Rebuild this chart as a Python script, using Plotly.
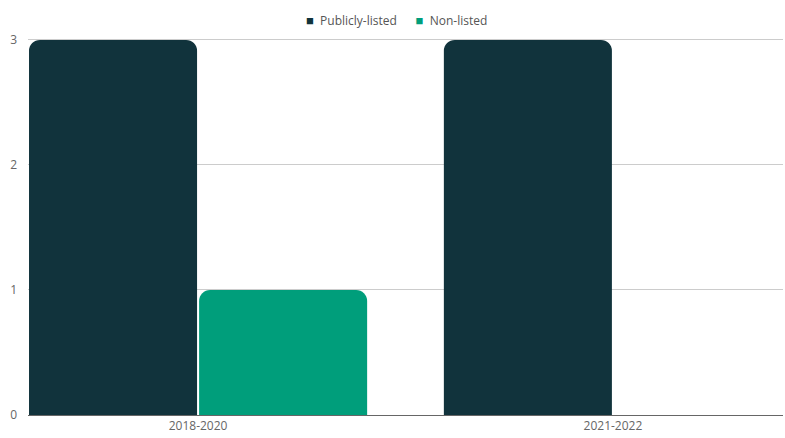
import plotly.graph_objects as go

periods = ["2018-2020", "2021-2022"]
publicly_listed = [3, 3]
non_listed = [1, 0]

DARK = "#11333c"
GREEN = "#009e7b"
series = [("Publicly-listed", publicly_listed, DARK), ("Non-listed", non_listed, GREEN)]

fig = go.Figure()
for name, vals, col in series:
    fig.add_trace(go.Bar(name=name, x=periods, y=vals,
                         marker=dict(color=col, line=dict(width=0))))

# compact legend row: small square key + label per series
key = '<span style="color:{c};font-size:13px">■</span>&nbsp;&nbsp;{n}'
legend_text = "&nbsp;&nbsp;&nbsp;&nbsp;&nbsp;&nbsp;".join(
    key.format(c=col, n=name) for name, _, col in series)
fig.add_annotation(text=legend_text, xref="paper", yref="paper",
                   x=0.488, y=1.0, xanchor="center", yanchor="bottom", yshift=7,
                   showarrow=False, font=dict(family="Open Sans", size=12, color="#555555"))

fig.update_layout(
    width=785, height=438,
    margin=dict(l=28, r=2, t=38, b=23),
    showlegend=False,
    barmode="group",
    bargap=0.18,
    bargroupgap=0.012,
    barcornerradius=11,
    plot_bgcolor="white",
    paper_bgcolor="white",
    font=dict(family="Open Sans", size=12, color="#666666"),
    xaxis=dict(range=[-0.41, 1.41], showgrid=False, ticks="",
               showline=True, linecolor="#666666", linewidth=1,
               tickfont=dict(size=12, color="#666666")),
    yaxis=dict(range=[0, 3.015], dtick=1, showgrid=True, gridcolor="#cccccc",
               gridwidth=1, zeroline=False, ticklabelstandoff=10,
               ticks="", tickfont=dict(size=12, color="#666666")),
)

fig.write_html("out.html")
